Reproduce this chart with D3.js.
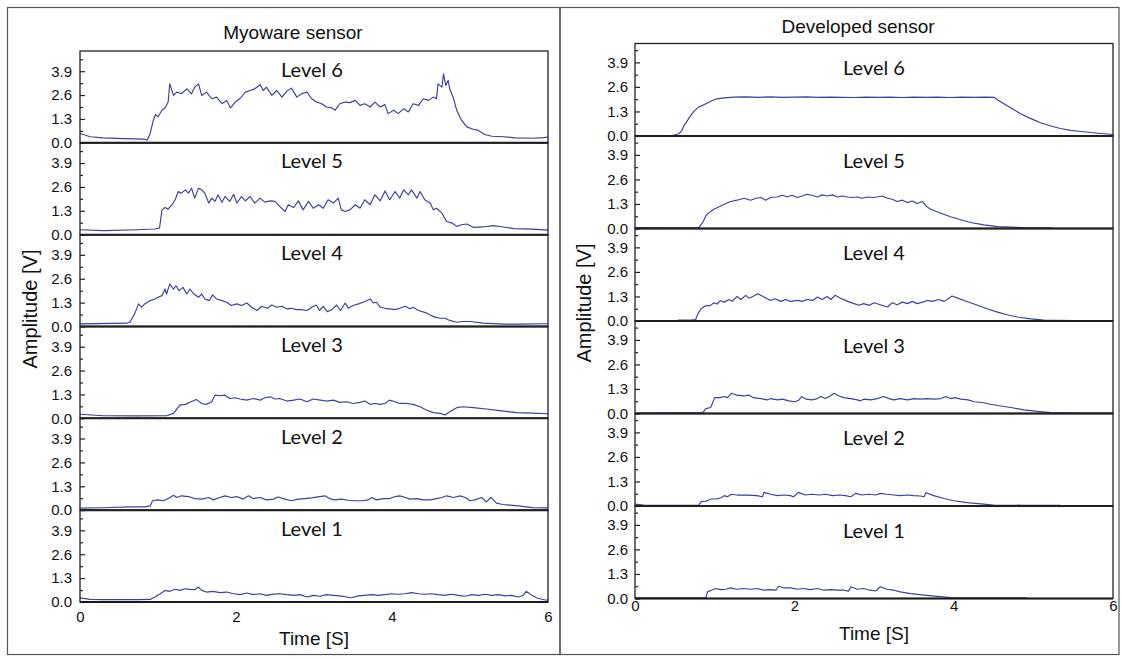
<!DOCTYPE html>
<html>
<head>
<meta charset="utf-8">
<script src="https://cdn.jsdelivr.net/npm/d3@7"></script>
<style>
  body { margin: 0; background: #fff; }
  text { fill: #111; }
</style>
</head>
<body>
<svg id="chart" width="1123" height="659"></svg>
<script>
// ---- axis ticks and labels ----
const timeTicks = [0, 2, 4, 6];
const ampTicks = [0, 1.3, 2.6, 3.9];
const ampMinorTicks = [0.65, 1.95, 3.25, 4.55];
const levelNames = ["Level 6", "Level 5", "Level 4", "Level 3", "Level 2", "Level 1"];

// ---- Myoware sensor traces: [time s, amplitude V] ----
const myoLevel6 = [[0,0.51],[0.13,0.33],[0.3,0.27],[0.55,0.23],[0.83,0.2],[0.86,0.14],[0.9,0.51],[0.94,1.23],[0.97,1.54],[1,1.41],[1.05,1.77],[1.09,1.9],[1.13,2.22],[1.15,3.21],[1.2,2.58],[1.24,2.76],[1.3,2.67],[1.37,2.94],[1.43,2.67],[1.47,3.03],[1.52,3.21],[1.56,2.58],[1.62,2.76],[1.69,2.4],[1.75,2.49],[1.82,2.13],[1.88,2.31],[1.93,1.9],[1.99,2.22],[2.05,2.4],[2.12,2.76],[2.18,2.85],[2.24,2.94],[2.31,3.16],[2.35,2.85],[2.39,3.03],[2.46,2.58],[2.52,2.85],[2.59,2.49],[2.65,2.8],[2.71,2.98],[2.78,2.49],[2.84,2.67],[2.91,2.76],[2.97,2.4],[3.03,2.22],[3.1,2.13],[3.16,1.95],[3.23,1.9],[3.27,1.77],[3.33,2.13],[3.4,2.22],[3.46,2.19],[3.53,2.31],[3.59,2.04],[3.65,2.13],[3.72,1.95],[3.78,2.22],[3.85,1.95],[3.91,2.08],[3.95,1.59],[4.02,1.77],[4.08,1.59],[4.15,1.86],[4.21,1.68],[4.27,2.13],[4.34,2.04],[4.4,2.4],[4.47,2.31],[4.53,2.49],[4.57,2.4],[4.59,3.21],[4.64,3.03],[4.66,3.76],[4.69,3.12],[4.72,3.4],[4.74,2.94],[4.79,2.4],[4.83,1.77],[4.89,1.23],[4.96,0.87],[5.04,0.74],[5.1,0.69],[5.19,0.45],[5.28,0.36],[5.43,0.33],[5.58,0.27],[5.8,0.25],[5.95,0.28],[6,0.32]];
const myoLevel5 = [[0,0.27],[0.3,0.22],[0.73,0.27],[0.96,0.31],[1.02,0.36],[1.05,1.35],[1.09,1.48],[1.13,1.39],[1.18,1.63],[1.22,1.9],[1.26,2.35],[1.3,2.26],[1.35,2.44],[1.39,2.26],[1.43,2.53],[1.47,1.99],[1.52,2.53],[1.56,2.44],[1.6,2.26],[1.65,1.72],[1.69,1.99],[1.73,1.81],[1.77,2.17],[1.82,1.77],[1.86,2.08],[1.92,1.81],[1.97,2.2],[2.01,1.72],[2.07,2.08],[2.12,1.84],[2.18,2.08],[2.24,1.72],[2.31,1.99],[2.37,1.77],[2.44,1.84],[2.5,1.81],[2.56,1.54],[2.63,1.26],[2.67,1.63],[2.74,1.48],[2.8,1.84],[2.86,1.35],[2.93,1.81],[2.99,1.44],[3.06,1.63],[3.12,1.44],[3.18,1.9],[3.25,1.72],[3.31,1.99],[3.35,1.35],[3.4,1.26],[3.46,1.35],[3.53,1.63],[3.59,1.44],[3.65,1.9],[3.72,1.63],[3.78,2.17],[3.85,1.84],[3.91,2.38],[3.97,1.9],[4.04,2.35],[4.1,1.99],[4.15,2.44],[4.21,2.17],[4.25,2.44],[4.32,1.99],[4.36,2.35],[4.42,1.9],[4.49,1.72],[4.53,1.35],[4.57,1.44],[4.64,1.17],[4.7,0.72],[4.77,0.63],[4.83,0.45],[4.89,0.54],[4.96,0.58],[5.04,0.4],[5.17,0.42],[5.3,0.49],[5.43,0.42],[5.56,0.33],[5.8,0.3],[6,0.25]];
const myoLevel4 = [[0,0.14],[0.6,0.18],[0.64,0.23],[0.71,0.78],[0.75,1.23],[0.79,1.05],[0.83,1.23],[0.9,1.41],[0.96,1.5],[1,1.59],[1.05,1.68],[1.09,2.04],[1.11,1.77],[1.15,2.31],[1.2,2.04],[1.23,2.22],[1.27,1.95],[1.32,2.13],[1.37,1.77],[1.41,2.04],[1.46,1.77],[1.52,1.59],[1.56,1.77],[1.6,1.5],[1.66,1.41],[1.7,1.72],[1.75,1.5],[1.82,1.41],[1.88,1.32],[1.94,1.14],[2.01,1.23],[2.07,1.14],[2.14,1.28],[2.2,1.05],[2.27,0.87],[2.33,1.1],[2.4,0.99],[2.46,1.17],[2.52,1.05],[2.59,1.1],[2.65,0.96],[2.71,0.99],[2.78,0.92],[2.84,0.92],[2.91,0.87],[2.97,1.05],[3.03,1.17],[3.07,0.87],[3.12,1.1],[3.17,0.81],[3.23,0.92],[3.29,1.17],[3.34,0.87],[3.4,1.28],[3.44,0.99],[3.5,1.14],[3.57,1.23],[3.63,1.32],[3.68,1.41],[3.72,1.5],[3.76,1.28],[3.8,1.32],[3.85,1.05],[3.91,0.99],[3.97,0.96],[4.04,0.92],[4.1,0.99],[4.17,1.1],[4.23,0.96],[4.27,1.05],[4.34,0.87],[4.44,0.74],[4.49,0.63],[4.55,0.51],[4.62,0.45],[4.68,0.45],[4.74,0.33],[4.83,0.23],[4.91,0.27],[5,0.27],[5.17,0.18],[5.43,0.13],[5.6,0.13],[6,0.15]];
const myoLevel3 = [[0,0.22],[0.3,0.14],[0.73,0.13],[1.11,0.14],[1.2,0.27],[1.28,0.72],[1.35,0.76],[1.41,0.87],[1.49,1.03],[1.56,0.81],[1.62,0.76],[1.69,0.9],[1.73,1.26],[1.79,1.23],[1.86,1.26],[1.92,1.08],[1.99,1.12],[2.05,1.05],[2.14,0.99],[2.22,1.08],[2.31,0.99],[2.37,1.12],[2.44,1.17],[2.5,1.05],[2.56,1.08],[2.65,0.94],[2.74,0.99],[2.82,1.05],[2.91,0.9],[2.99,1.05],[3.08,0.99],[3.16,0.94],[3.25,0.99],[3.33,0.87],[3.42,0.9],[3.5,0.81],[3.59,0.87],[3.65,0.94],[3.72,0.76],[3.78,0.81],[3.85,0.76],[3.91,0.81],[3.97,0.99],[4.04,0.9],[4.1,0.81],[4.19,0.81],[4.27,0.76],[4.36,0.63],[4.44,0.45],[4.53,0.31],[4.62,0.27],[4.68,0.18],[4.74,0.36],[4.83,0.58],[4.91,0.63],[5.04,0.58],[5.21,0.51],[5.38,0.42],[5.6,0.31],[5.8,0.28],[6,0.25]];
const myoLevel2 = [[0,0.11],[0.3,0.13],[0.64,0.18],[0.83,0.18],[0.9,0.23],[0.93,0.51],[1,0.56],[1.07,0.51],[1.13,0.63],[1.2,0.81],[1.24,0.69],[1.3,0.78],[1.39,0.74],[1.47,0.63],[1.56,0.6],[1.65,0.69],[1.71,0.56],[1.79,0.69],[1.86,0.78],[1.94,0.69],[2.01,0.74],[2.09,0.6],[2.16,0.78],[2.22,0.63],[2.31,0.69],[2.39,0.56],[2.48,0.6],[2.54,0.72],[2.63,0.6],[2.71,0.51],[2.8,0.6],[2.88,0.63],[2.97,0.67],[3.05,0.72],[3.14,0.78],[3.2,0.63],[3.27,0.56],[3.35,0.6],[3.44,0.54],[3.53,0.51],[3.61,0.51],[3.7,0.56],[3.74,0.69],[3.8,0.56],[3.89,0.63],[3.97,0.63],[4.04,0.74],[4.1,0.78],[4.17,0.69],[4.23,0.6],[4.32,0.63],[4.4,0.56],[4.49,0.56],[4.57,0.63],[4.64,0.69],[4.7,0.78],[4.79,0.69],[4.87,0.78],[4.94,0.69],[5,0.51],[5.06,0.56],[5.15,0.69],[5.21,0.45],[5.27,0.69],[5.34,0.38],[5.42,0.31],[5.51,0.27],[5.62,0.23],[5.8,0.14],[6,0.12]];
const myoLevel1 = [[0,0.22],[0.13,0.14],[0.3,0.13],[0.73,0.13],[0.9,0.14],[0.96,0.27],[1.03,0.45],[1.09,0.63],[1.15,0.58],[1.22,0.69],[1.28,0.63],[1.35,0.72],[1.41,0.69],[1.47,0.67],[1.52,0.81],[1.56,0.63],[1.62,0.54],[1.71,0.58],[1.79,0.51],[1.88,0.54],[1.97,0.45],[2.05,0.4],[2.14,0.49],[2.22,0.4],[2.31,0.45],[2.39,0.36],[2.48,0.43],[2.56,0.45],[2.65,0.4],[2.74,0.36],[2.82,0.4],[2.91,0.27],[2.99,0.36],[3.08,0.31],[3.16,0.4],[3.25,0.36],[3.33,0.33],[3.42,0.27],[3.48,0.23],[3.57,0.33],[3.65,0.36],[3.74,0.4],[3.82,0.36],[3.91,0.4],[4,0.45],[4.08,0.42],[4.17,0.45],[4.25,0.51],[4.34,0.45],[4.42,0.42],[4.51,0.45],[4.59,0.4],[4.68,0.36],[4.76,0.42],[4.85,0.36],[4.94,0.31],[5.02,0.4],[5.11,0.36],[5.19,0.42],[5.28,0.36],[5.36,0.4],[5.45,0.33],[5.53,0.36],[5.62,0.27],[5.68,0.35],[5.72,0.58],[5.78,0.4],[5.86,0.22],[5.95,0.12],[6,0.1]];

// ---- Developed sensor traces: [time s, amplitude V] ----
const devLevel6 = [[0,0],[0.41,0],[0.49,0.05],[0.55,0.12],[0.59,0.3],[0.61,0.51],[0.66,0.83],[0.7,1.09],[0.74,1.32],[0.8,1.53],[0.87,1.67],[0.93,1.79],[0.97,1.88],[1.03,1.97],[1.12,2.02],[1.24,2.06],[1.4,2.07],[1.55,2.05],[1.7,2.07],[1.85,2.05],[2,2.06],[2.15,2.07],[2.3,2.05],[2.45,2.06],[2.6,2.05],[2.75,2.04],[2.9,2.06],[3.05,2.05],[3.2,2.06],[3.35,2.04],[3.5,2.06],[3.65,2.05],[3.8,2.06],[3.95,2.04],[4.1,2.06],[4.25,2.05],[4.4,2.06],[4.51,2.05],[4.55,1.92],[4.63,1.71],[4.72,1.48],[4.84,1.18],[4.97,0.92],[5.09,0.7],[5.22,0.53],[5.34,0.4],[5.47,0.3],[5.57,0.25],[5.75,0.17],[6,0.08]];
const devLevel5 = [[0,0.05],[0.4,0.04],[0.8,0.05],[0.85,0.32],[0.89,0.67],[0.93,0.84],[0.99,1.02],[1.05,1.14],[1.12,1.28],[1.2,1.43],[1.28,1.5],[1.37,1.6],[1.45,1.5],[1.52,1.6],[1.58,1.64],[1.64,1.5],[1.7,1.64],[1.78,1.67],[1.85,1.76],[1.91,1.67],[1.97,1.76],[2.04,1.64],[2.1,1.72],[2.16,1.81],[2.22,1.76],[2.29,1.67],[2.35,1.78],[2.41,1.72],[2.48,1.78],[2.54,1.67],[2.6,1.72],[2.67,1.67],[2.73,1.64],[2.79,1.67],[2.85,1.6],[2.92,1.67],[2.98,1.64],[3.04,1.67],[3.1,1.72],[3.17,1.6],[3.23,1.55],[3.29,1.43],[3.36,1.5],[3.42,1.37],[3.48,1.46],[3.54,1.32],[3.61,1.43],[3.65,1.2],[3.71,1.02],[3.84,0.81],[3.96,0.62],[4.09,0.46],[4.21,0.32],[4.38,0.19],[4.55,0.1],[4.72,0.07],[4.88,0.05],[5.24,0.04]];
const devLevel4 = [[0,0],[0.53,0],[0.55,0.05],[0.7,0.05],[0.76,0.07],[0.79,0.39],[0.83,0.65],[0.88,0.79],[0.95,0.83],[0.99,0.97],[1.03,0.9],[1.07,1.07],[1.12,1],[1.18,1.14],[1.22,1.04],[1.28,1.3],[1.33,1.14],[1.39,1.36],[1.43,1.21],[1.49,1.32],[1.54,1.44],[1.62,1.27],[1.7,1.09],[1.76,1.18],[1.83,1.04],[1.89,1.14],[1.95,1.04],[2.04,1.09],[2.1,1.04],[2.16,1.14],[2.23,1.09],[2.29,1.27],[2.35,1.14],[2.41,1.3],[2.46,1.14],[2.51,1.36],[2.58,1.21],[2.67,1.04],[2.75,0.92],[2.81,0.83],[2.87,0.92],[2.94,0.83],[3,0.97],[3.08,0.86],[3.17,0.74],[3.23,0.97],[3.29,0.86],[3.36,1],[3.42,0.92],[3.48,1.04],[3.54,0.92],[3.61,1],[3.67,1.09],[3.73,1.04],[3.81,1.14],[3.88,1.04],[3.94,1.21],[3.98,1.32],[4.05,1.21],[4.13,1.09],[4.21,0.97],[4.3,0.83],[4.42,0.65],[4.55,0.47],[4.67,0.33],[4.8,0.21],[4.97,0.11],[5.13,0.05],[5.3,0.04],[5.52,0.02]];
const devLevel3 = [[0,0.02],[0.85,0.05],[0.89,0.26],[0.95,0.32],[1,0.84],[1.07,0.84],[1.12,0.9],[1.16,0.84],[1.21,1.07],[1.28,0.97],[1.37,0.93],[1.43,0.97],[1.49,0.84],[1.58,0.79],[1.66,0.72],[1.7,0.79],[1.79,0.72],[1.85,0.76],[1.93,0.67],[2.01,0.62],[2.06,0.72],[2.09,0.9],[2.15,0.76],[2.22,0.72],[2.29,0.79],[2.33,0.9],[2.39,0.79],[2.45,0.93],[2.5,1.07],[2.56,0.93],[2.62,0.84],[2.71,0.79],[2.79,0.72],[2.83,0.67],[2.87,0.76],[2.96,0.72],[3.04,0.79],[3.12,0.9],[3.19,0.79],[3.25,0.72],[3.33,0.79],[3.42,0.72],[3.5,0.79],[3.58,0.76],[3.67,0.79],[3.75,0.76],[3.84,0.79],[3.9,0.9],[3.96,0.79],[4.02,0.84],[4.09,0.76],[4.18,0.72],[4.26,0.62],[4.36,0.58],[4.46,0.49],[4.59,0.4],[4.72,0.32],[4.88,0.19],[5.05,0.11],[5.22,0.05],[5.57,0.02],[6,0.02]];
const devLevel2 = [[0,0.1],[0.11,0.05],[0.4,0.04],[0.8,0.04],[0.83,0.23],[0.89,0.26],[0.93,0.32],[0.96,0.37],[1.02,0.37],[1.08,0.44],[1.12,0.55],[1.16,0.49],[1.21,0.62],[1.28,0.58],[1.41,0.58],[1.53,0.55],[1.6,0.49],[1.62,0.72],[1.7,0.62],[1.79,0.55],[1.87,0.58],[1.95,0.55],[1.99,0.49],[2.05,0.72],[2.14,0.58],[2.22,0.62],[2.31,0.58],[2.39,0.62],[2.48,0.55],[2.56,0.58],[2.64,0.55],[2.71,0.49],[2.77,0.67],[2.85,0.58],[2.94,0.62],[3.02,0.58],[3.08,0.67],[3.16,0.62],[3.25,0.58],[3.33,0.55],[3.42,0.58],[3.5,0.55],[3.58,0.53],[3.63,0.49],[3.65,0.7],[3.75,0.55],[3.88,0.4],[4,0.28],[4.17,0.18],[4.34,0.11],[4.5,0.05],[4.88,0.04],[5.34,0.04]];
const devLevel1 = [[0,0.04],[0.89,0.04],[0.91,0.35],[0.96,0.44],[1.01,0.53],[1.08,0.47],[1.14,0.49],[1.2,0.56],[1.28,0.49],[1.36,0.53],[1.45,0.49],[1.53,0.53],[1.62,0.44],[1.7,0.47],[1.77,0.44],[1.8,0.65],[1.87,0.56],[1.95,0.56],[2.04,0.49],[2.12,0.53],[2.2,0.47],[2.29,0.53],[2.37,0.44],[2.46,0.47],[2.54,0.44],[2.62,0.44],[2.68,0.39],[2.71,0.62],[2.79,0.49],[2.87,0.53],[2.95,0.44],[3.02,0.4],[3.08,0.62],[3.16,0.49],[3.25,0.44],[3.33,0.35],[3.46,0.26],[3.63,0.18],[3.79,0.11],[3.96,0.05],[4.21,0.04],[4.92,0.04]];

// ---- panel layout ----
const panels = [
  {
    title: "Myoware sensor",
    traces: [myoLevel6, myoLevel5, myoLevel4, myoLevel3, myoLevel2, myoLevel1],
    frame: { x: 7.5, y: 7.5, w: 552.5, h: 647 },
    left: 80, right: 548, top: 51, rowH: 91.83, yMax: 5,
    titleX: 293, titleY: 32,
    levelX: 312, levelDy: 17.5,
    tickPad: 8,
    yLabelX: 30, yLabelY: 309,
    xTickY: 617, xLabelY: 638
  },
  {
    title: "Developed sensor",
    traces: [devLevel6, devLevel5, devLevel4, devLevel3, devLevel2, devLevel1],
    frame: { x: 560, y: 7.5, w: 559, h: 647 },
    left: 635, right: 1113, top: 43.5, rowH: 92.5, yMax: 4.9,
    titleX: 858, titleY: 26,
    levelX: 874, levelDy: 23.5,
    tickPad: 7,
    yLabelX: 584, yLabelY: 303,
    xTickY: 606, xLabelY: 633
  }
];

const svg = d3.select("#chart");
svg.append("rect").attr("width", 1123).attr("height", 659).attr("fill", "#fff");

const lineColor = "#3d3da3";
const tickFont = "'Liberation Sans', Arial, sans-serif";
const levelFont = "Lato, 'Open Sans', sans-serif";

panels.forEach((p, pi) => {
  const g = svg.append("g").attr("class", "panel-" + pi);

  // outer frame of the panel
  g.append("rect")
    .attr("x", p.frame.x).attr("y", p.frame.y)
    .attr("width", p.frame.w).attr("height", p.frame.h)
    .attr("fill", "none").attr("stroke", "#555").attr("stroke-width", 1.2);

  g.append("text")
    .attr("x", p.titleX).attr("y", p.titleY)
    .attr("text-anchor", "middle").attr("dominant-baseline", "central")
    .style("font-family", tickFont).style("font-size", "19px")
    .text(p.title);

  const x = d3.scaleLinear().domain([0, 6]).range([p.left, p.right]);

  p.traces.forEach((trace, i) => {
    const rowTop = p.top + i * p.rowH;
    const rowBottom = rowTop + p.rowH;
    const y = d3.scaleLinear().domain([0, p.yMax]).range([rowBottom, rowTop]);
    const row = g.append("g");

    const clipId = "clip-" + pi + "-" + i;
    row.append("clipPath").attr("id", clipId)
      .append("rect").attr("x", p.left).attr("y", rowTop)
      .attr("width", p.right - p.left).attr("height", p.rowH);

    // signal trace
    row.append("path")
      .datum(trace)
      .attr("clip-path", "url(#" + clipId + ")")
      .attr("fill", "none")
      .attr("stroke", lineColor)
      .attr("stroke-width", 1.15)
      .attr("stroke-linejoin", "round")
      .attr("d", d3.line().x(d => x(d[0])).y(d => y(d[1])));

    // major y ticks with labels (pointing inward)
    const yAxis = row.append("g")
      .attr("transform", `translate(${p.left},0)`)
      .call(d3.axisLeft(y).tickValues(ampTicks).tickSize(-5).tickPadding(p.tickPad)
        .tickFormat(d3.format(".1f")));
    yAxis.select(".domain").remove();
    yAxis.selectAll("line").attr("stroke", "#222").attr("stroke-width", 1.2);
    yAxis.selectAll("text").style("font-family", tickFont).style("font-size", "15px").attr("fill", "#111");

    // minor y ticks
    const yMinor = row.append("g")
      .attr("transform", `translate(${p.left},0)`)
      .call(d3.axisLeft(y).tickValues(ampMinorTicks).tickSize(-3).tickFormat(""));
    yMinor.select(".domain").remove();
    yMinor.selectAll("line").attr("stroke", "#222").attr("stroke-width", 1.2);

    // box around the sub-plot
    row.append("rect")
      .attr("x", p.left).attr("y", rowTop)
      .attr("width", p.right - p.left).attr("height", p.rowH)
      .attr("fill", "none").attr("stroke", "#222").attr("stroke-width", 1.3);
    row.append("line")
      .attr("x1", p.left).attr("x2", p.right)
      .attr("y1", rowBottom).attr("y2", rowBottom)
      .attr("stroke", "#1a1a1a").attr("stroke-width", 2);

    row.append("text")
      .attr("x", p.levelX).attr("y", rowTop + p.levelDy)
      .attr("text-anchor", "middle").attr("dominant-baseline", "central")
      .style("font-family", levelFont).style("font-size", "20px")
      .text(levelNames[i]);
  });

  // time axis under the last row
  const xAxis = g.append("g")
    .attr("transform", `translate(0,${p.top + 6 * p.rowH})`)
    .call(d3.axisBottom(x).tickValues(timeTicks).tickSize(0).tickPadding(0).tickFormat(d3.format("d")));
  xAxis.select(".domain").remove();
  xAxis.selectAll("text")
    .attr("y", p.xTickY - (p.top + 6 * p.rowH)).attr("dy", "0.35em")
    .style("font-family", tickFont).style("font-size", "15px").attr("fill", "#111");

  g.append("text")
    .attr("x", (p.left + p.right) / 2).attr("y", p.xLabelY)
    .attr("text-anchor", "middle").attr("dominant-baseline", "central")
    .style("font-family", tickFont).style("font-size", "19px")
    .text("Time [S]");

  g.append("text")
    .attr("transform", `translate(${p.yLabelX},${p.yLabelY}) rotate(-90)`)
    .attr("text-anchor", "middle").attr("dominant-baseline", "central")
    .style("font-family", tickFont).style("font-size", "20px")
    .text("Amplitude [V]");
});
</script>
</body>
</html>
